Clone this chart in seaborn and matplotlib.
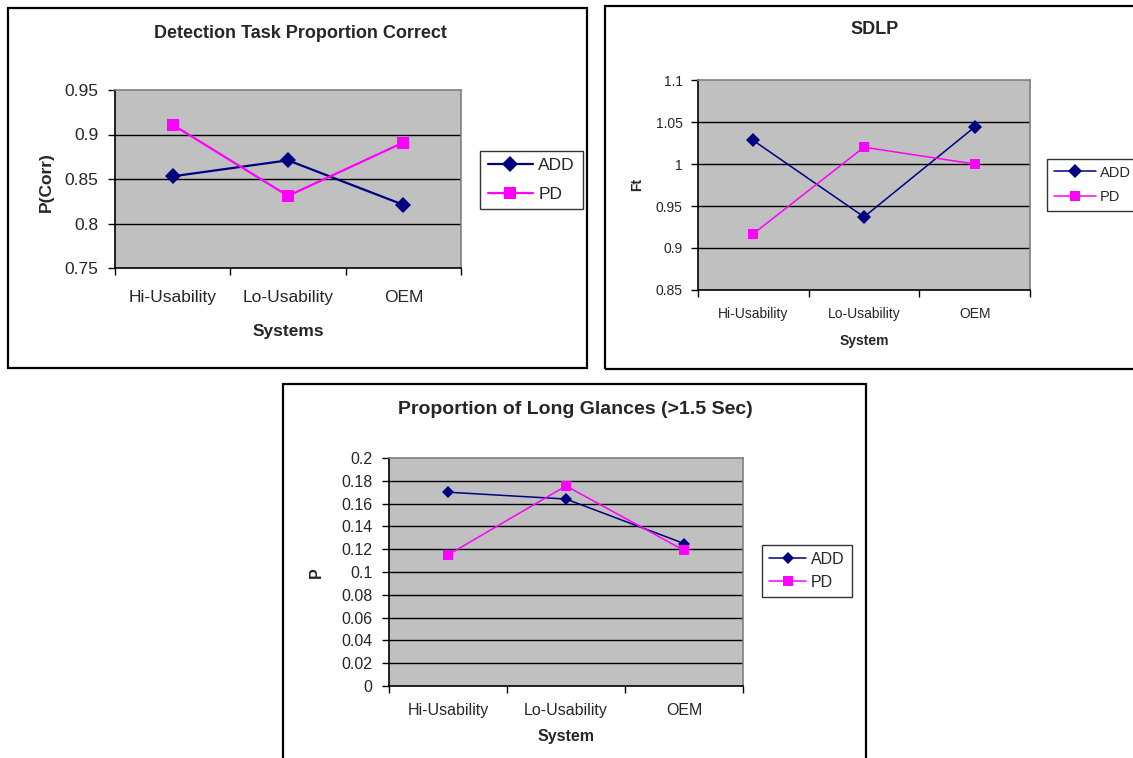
import numpy as np
import pandas as pd
import seaborn as sns
import matplotlib.pyplot as plt
from matplotlib.patches import Rectangle
from matplotlib.ticker import FuncFormatter, FixedLocator

# data
systems = ["Hi-Usability", "Lo-Usability", "OEM"]
groups = ["ADD", "PD"]

detect_add = [0.853, 0.871, 0.821]
detect_pd = [0.911, 0.831, 0.891]

sdlp_add = [1.028, 0.937, 1.044]
sdlp_pd = [0.917, 1.020, 1.000]

glance_add = [0.170, 0.164, 0.125]
glance_pd = [0.115, 0.1755, 0.119]

W, H = 1133, 758
sns.set_theme(style="white")
plt.rcParams['font.family'] = ['Liberation Sans', 'DejaVu Sans']

fig = plt.figure(figsize=(W / 100, H / 100), dpi=100)


def fbox(x0, y0, x1, y1):
    return [x0 / W, 1 - y1 / H, (x1 - x0) / W, (y1 - y0) / H]


def fpt(x, y):
    return x / W, 1 - y / H


def long_df(add_vals, pd_vals):
    pos = np.arange(len(systems))
    return pd.DataFrame({
        "pos": np.concatenate([pos, pos]),
        "value": np.concatenate([add_vals, pd_vals]),
        "Group": np.repeat(groups, len(systems)),
    })


def panel(add_vals, pd_vals, plotbox, border, ylim, ystep, title, title_xy, title_fs,
          ylabel, ylabel_xy, xlabel, xlabel_xy, lab_fs, tick_fs, xpad, ypad,
          leg_xy, leg_fs, handlelen, lspace, lw, ms_d, ms_s):
    # outer chart frame
    fig.patches.append(Rectangle((border[0] / W, 1 - border[3] / H),
                                 (border[2] - border[0]) / W, (border[3] - border[1]) / H,
                                 transform=fig.transFigure, fill=False,
                                 edgecolor="black", lw=1.6, zorder=0))
    ax = fig.add_axes(fbox(*plotbox))
    ax.set_facecolor("#C0C0C0")
    df = long_df(add_vals, pd_vals)
    sns.lineplot(data=df, x="pos", y="value", hue="Group", style="Group",
                 markers={"ADD": "D", "PD": "s"}, dashes=False,
                 palette={"ADD": "#000080", "PD": "#FF00FF"},
                 lw=lw, markersize=ms_d, markeredgewidth=0, ax=ax)
    # square markers a bit smaller than diamonds
    for ln in ax.get_lines():
        if ln.get_marker() == "s":
            ln.set_markersize(ms_s)

    ax.set_xlim(-0.5, len(systems) - 0.5)
    ax.set_ylim(*ylim)
    yt = np.round(np.arange(ylim[0], ylim[1] + ystep / 2, ystep), 4)
    ax.set_yticks(yt)
    ax.yaxis.set_major_formatter(FuncFormatter(lambda v, p: f"{v:g}"))
    for v in yt[1:-1]:
        ax.axhline(v, color="black", lw=1.0, zorder=1)

    ax.xaxis.set_major_locator(FixedLocator(np.arange(-0.5, len(systems), 1.0)))
    ax.xaxis.set_major_formatter(FuncFormatter(lambda v, p: ""))
    ax.set_xticks(np.arange(len(systems)), labels=systems, minor=True)
    ax.tick_params(axis="x", which="major", direction="out", length=5, width=1,
                   color="black", bottom=True)
    ax.tick_params(axis="x", which="minor", length=0, pad=xpad, labelsize=tick_fs,
                   bottom=True)
    ax.tick_params(axis="y", direction="out", length=5, width=1, color="black",
                   left=True, pad=ypad, labelsize=tick_fs)

    for s in ["left", "bottom"]:
        ax.spines[s].set_color("black")
        ax.spines[s].set_linewidth(1.2)
    for s in ["top", "right"]:
        ax.spines[s].set_color("#808080")
        ax.spines[s].set_linewidth(1.2)
    ax.set_xlabel("")
    ax.set_ylabel("")

    fig.text(*fpt(*title_xy), title, ha="center", va="center",
             fontsize=title_fs, fontweight="bold")
    fig.text(*fpt(*ylabel_xy), ylabel, ha="center", va="center", rotation=90,
             fontsize=lab_fs, fontweight="bold")
    fig.text(*fpt(*xlabel_xy), xlabel, ha="center", va="center",
             fontsize=lab_fs, fontweight="bold")

    sns.move_legend(ax, "center left", bbox_to_anchor=fpt(*leg_xy),
                    bbox_transform=fig.transFigure, title=None, frameon=True,
                    fancybox=False, edgecolor="black", fontsize=leg_fs,
                    handlelength=handlelen, borderpad=0.45, labelspacing=lspace,
                    handletextpad=0.3, borderaxespad=0)
    leg = ax.get_legend()
    leg.get_frame().set_linewidth(1.0)
    leg.get_frame().set_facecolor("white")
    return ax


panel(detect_add, detect_pd, plotbox=(115, 90, 461, 268), border=(8, 8, 587, 368),
      ylim=(0.75, 0.95), ystep=0.05,
      title="Detection Task Proportion Correct", title_xy=(300, 33), title_fs=13,
      ylabel="P(Corr)", ylabel_xy=(46, 182), xlabel="Systems", xlabel_xy=(288, 332),
      lab_fs=12.5, tick_fs=12.5, xpad=16, ypad=7,
      leg_xy=(480, 180), leg_fs=12.5, handlelen=2.6, lspace=0.75, lw=1.6, ms_d=8, ms_s=8)

panel(sdlp_add, sdlp_pd, plotbox=(698, 80, 1030, 290), border=(605, 6, 1145, 369),
      ylim=(0.85, 1.1), ystep=0.05,
      title="SDLP", title_xy=(875, 29), title_fs=13,
      ylabel="Ft", ylabel_xy=(637, 184), xlabel="System", xlabel_xy=(864, 341),
      lab_fs=10, tick_fs=10, xpad=12, ypad=6,
      leg_xy=(1047, 185), leg_fs=10.5, handlelen=2.9, lspace=0.75, lw=1.1, ms_d=7, ms_s=6.5)

panel(glance_add, glance_pd, plotbox=(389, 458, 743, 686), border=(283, 384, 866, 775),
      ylim=(0.0, 0.2), ystep=0.02,
      title="Proportion of Long Glances (>1.5 Sec)", title_xy=(575, 409), title_fs=14,
      ylabel="P", ylabel_xy=(316, 573), xlabel="System", xlabel_xy=(566, 736),
      lab_fs=11.5, tick_fs=11.5, xpad=12, ypad=7,
      leg_xy=(762, 571), leg_fs=11.5, handlelen=2.3, lspace=0.5, lw=1.1, ms_d=6.5, ms_s=6.5)

fig.savefig("out.png", dpi=100)
